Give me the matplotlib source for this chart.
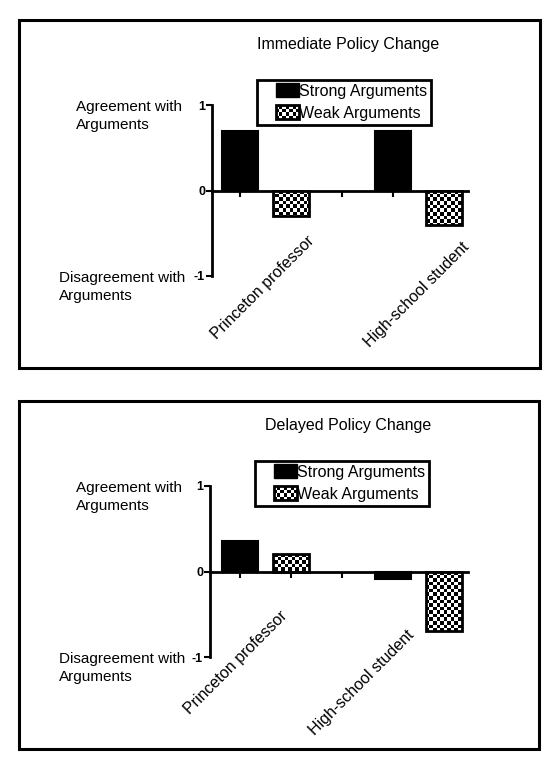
import numpy as np
import matplotlib
matplotlib.use('Agg')
import matplotlib.pyplot as plt
from matplotlib.patches import Rectangle, Patch
from matplotlib.legend_handler import HandlerBase

plt.rcParams['font.family'] = ['Liberation Sans', 'DejaVu Sans']

# data
groups = ['Princeton professor', 'High-school student']
series = ['Strong Arguments', 'Weak Arguments']
titles = ['Immediate Policy Change', 'Delayed Policy Change']
immediate_strong = [0.70, 0.70]
immediate_weak = [-0.30, -0.40]
delayed_strong = [0.36, -0.09]
delayed_weak = [0.21, -0.70]
y_ticks = [-1, 0, 1]
y_tick_labels = ['-1', '0', '1']

panels = [(immediate_strong, immediate_weak), (delayed_strong, delayed_weak)]

W, H = 559, 769
FS = 11.5
# layout (pixels)
axes_px = [(212, 105, 468, 276), (210, 486, 468, 657)]
frames_px = [(19, 20, 540, 368), (19, 401, 539, 749)]
title_y_px = [44, 425]
legend_px = [(257, 80), (255, 461)]
label_pos = [[(0.45, -1.13), (3.47, -1.22)], [(-0.08, -1.06), (2.39, -1.30)]]
slot_px = 51.0


class Swatch(HandlerBase):
    def __init__(self, checker):
        super().__init__()
        self.checker = checker

    def create_artists(self, legend, orig_handle, xdescent, ydescent,
                       width, height, fontsize, trans):
        w = 0.62 * width
        x0 = -xdescent + width - w
        h = height * 1.25
        y0 = -ydescent - 0.1 * height
        arts = []
        if self.checker:
            arts.append(Rectangle((x0, y0), w, h, facecolor='white',
                                  edgecolor='none', transform=trans))
            nx, ny = 7, 4
            cw, ch = w / nx, h / ny
            for i in range(nx):
                for j in range(ny):
                    if (i + j) % 2 == 0:
                        arts.append(Rectangle((x0 + i * cw, y0 + j * ch), cw, ch,
                                              facecolor='black', lw=0,
                                              transform=trans))
            arts.append(Rectangle((x0, y0), w, h, facecolor='none',
                                  edgecolor='black', lw=2, transform=trans))
        else:
            arts.append(Rectangle((x0, y0), w, h, facecolor='black',
                                  edgecolor='black', lw=1, transform=trans))
        return arts


fig = plt.figure(figsize=(W / 100, H / 100), dpi=100)

for k, (strong, weak) in enumerate(panels):
    l, t, r, b = frames_px[k]
    fig.patches.append(Rectangle((l / W, 1 - b / H), (r - l) / W, (b - t) / H,
                                 transform=fig.transFigure, fill=False,
                                 edgecolor='black', lw=2.2))

    x0, ytop, x1, ybot = axes_px[k]
    ax = fig.add_axes([x0 / W, 1 - ybot / H, (x1 - x0) / W, (ybot - ytop) / H])
    xlim = (-(240 - x0) / slot_px, (x1 - 240) / slot_px)

    pos_strong = [3 * i for i in range(len(groups))]
    pos_weak = [3 * i + 1 for i in range(len(groups))]
    ax.bar(pos_strong, strong, width=0.72, color='black', edgecolor='black',
           lw=1.5, zorder=3)
    wb = ax.bar(pos_weak, weak, width=0.72, facecolor='none', edgecolor='black',
                lw=2, zorder=3)

    # checkerboard fill for weak bars
    nx, ny = int((x1 - x0) / 3.5), int((ybot - ytop) / 3.5)
    checker = (np.add.outer(np.arange(ny), np.arange(nx)) % 2).astype(float)
    for rect in wb:
        im = ax.imshow(checker, extent=(xlim[0], xlim[1], -1, 1), cmap='gray_r',
                       interpolation='nearest', aspect='auto', zorder=2.8)
        im.set_clip_path(rect)

    ax.set_xlim(*xlim)
    ax.set_ylim(-1, 1)
    ax.spines['top'].set_visible(False)
    ax.spines['right'].set_visible(False)
    ax.spines['bottom'].set_position(('data', 0))
    ax.spines['left'].set_linewidth(2)
    ax.spines['bottom'].set_linewidth(2)
    ax.set_yticks(y_ticks)
    ax.set_yticklabels(y_tick_labels, fontweight='bold', fontsize=9)
    ax.set_xticks(range(5))
    ax.set_xticklabels([])
    ax.tick_params(axis='y', length=4, width=1.5, pad=1)
    ax.tick_params(axis='x', length=4, width=1.5)
    ax.patch.set_visible(False)

    for g, (lx, ly) in enumerate(label_pos[k]):
        ax.text(lx, ly, groups[g], rotation=45, ha='center', va='center',
                rotation_mode='anchor', fontsize=FS, clip_on=False)

    axw = x1 - x0
    axh = ybot - ytop
    ax.text((76 - x0) / axw, 1.06, 'Agreement with\nArguments', transform=ax.get_yaxis_transform(),
            ha='left', va='top', fontsize=11, linespacing=1.35)
    ax.text((59 - x0) / axw, -0.94, 'Disagreement with\nArguments', transform=ax.get_yaxis_transform(),
            ha='left', va='top', fontsize=11, linespacing=1.35)

    fig.text(348 / W, 1 - title_y_px[k] / H, titles[k], ha='center', va='center',
             fontsize=FS)

    lx0, ly0 = legend_px[k]
    hs, hw = Patch(), Patch()
    leg = ax.legend([hs, hw], series, loc='upper left',
                    bbox_to_anchor=((lx0 - x0) / axw, 1 + (ytop - ly0) / axh),
                    borderaxespad=0, borderpad=0.25, handlelength=2.4,
                    handletextpad=0.0, labelspacing=0.45, fontsize=FS,
                    fancybox=False, framealpha=1,
                    handler_map={hs: Swatch(False), hw: Swatch(True)})
    leg.get_frame().set_edgecolor('black')
    leg.get_frame().set_linewidth(2)

fig.savefig('out.png', dpi=100)
